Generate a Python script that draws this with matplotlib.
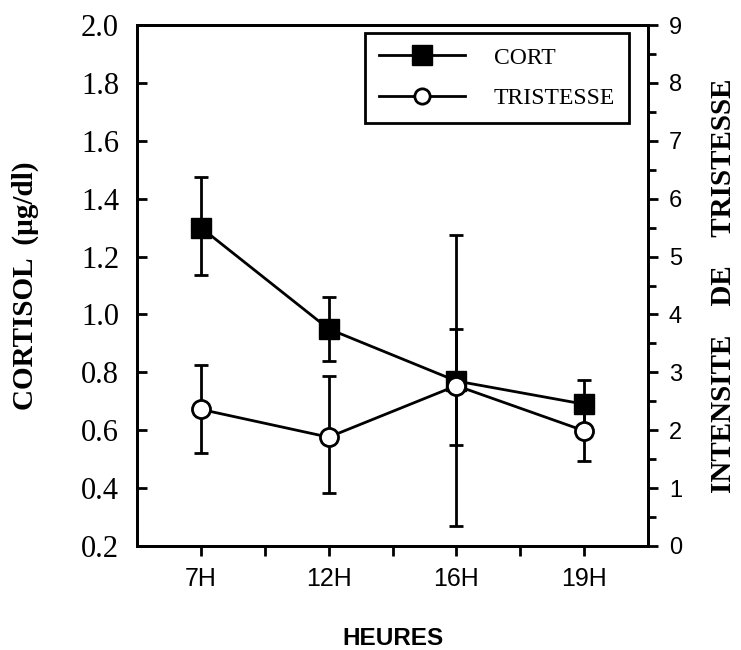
import matplotlib
matplotlib.use("Agg")
import matplotlib.pyplot as plt
from matplotlib.lines import Line2D
from matplotlib.ticker import MultipleLocator, FixedLocator

# donnees
hours = ['7H', '12H', '16H', '19H']
cort_mean = [1.30, 0.95, 0.77, 0.69]
cort_err_low = [0.165, 0.11, 0.22, 0.085]
cort_err_high = [0.175, 0.11, 0.18, 0.085]
trist_mean = [2.36, 1.88, 2.77, 1.99]
trist_err_low = [0.76, 0.96, 2.42, 0.53]
trist_err_high = [0.76, 1.05, 2.60, 0.53]

serif = 'Liberation Serif'
sans = 'Liberation Sans'
lw = 2.0

fig = plt.figure(figsize=(7.41, 6.5), dpi=100)
ax = fig.add_axes([0.185, 0.16, 0.6895, 0.8015])
ax2 = ax.twinx()

x = list(range(len(hours)))

ax.errorbar(x, cort_mean, yerr=[cort_err_low, cort_err_high], color='black',
            lw=lw, marker='s', ms=14, mfc='black', mec='black',
            ecolor='black', elinewidth=lw, capsize=5, capthick=lw)
ax2.errorbar(x, trist_mean, yerr=[trist_err_low, trist_err_high], color='black',
             lw=lw, marker='o', ms=13, mfc='white', mec='black', mew=lw,
             ecolor='black', elinewidth=lw, capsize=5, capthick=lw)

ax.set_xlim(-0.5, 3.5)
ax.set_ylim(0.2, 2.0)
ax2.set_ylim(0, 9)

ax.set_xticks(x)
ax.set_xticklabels(hours, fontfamily=sans, fontsize=18)
ax.xaxis.set_minor_locator(FixedLocator([0.5, 1.5, 2.5]))
ax.tick_params(axis='x', which='both', direction='out', length=7, width=lw, pad=8)

ax.yaxis.set_major_locator(MultipleLocator(0.2))
ax.set_yticklabels([f'{v:.1f}' for v in ax.get_yticks()], fontfamily=serif, fontsize=22)
ax.tick_params(axis='y', which='major', direction='in', length=7, width=lw, pad=13)

ax2.yaxis.set_major_locator(MultipleLocator(1))
ax2.yaxis.set_minor_locator(MultipleLocator(0.5))
ax2.set_yticklabels([str(int(v)) for v in ax2.get_yticks()], fontfamily=sans, fontsize=17)
ax2.tick_params(axis='y', which='major', direction='out', length=7, width=lw, pad=8)
ax2.tick_params(axis='y', which='minor', direction='out', length=5.5, width=lw)

for a in (ax, ax2):
    for s in a.spines.values():
        s.set_linewidth(lw)

ax.set_xlabel('HEURES', fontfamily=sans, fontweight='bold', fontsize=17.5, labelpad=26)
ax.set_ylabel('CORTISOL  (µg/dl)', fontfamily=serif, fontweight='bold', fontsize=21, labelpad=30)
ax2.set_ylabel('INTENSITE    DE    TRISTESSE', fontfamily=serif, fontweight='bold',
               fontsize=21, rotation=90, labelpad=20)

handles = [
    Line2D([], [], color='black', lw=lw, marker='s', ms=14, mfc='black'),
    Line2D([], [], color='black', lw=lw, marker='o', ms=11, mfc='white', mew=lw),
]
leg = ax2.legend(handles, ['CORT', 'TRISTESSE'], loc='upper right',
                 bbox_to_anchor=(0.963, 0.985), borderaxespad=0,
                 prop={'family': serif, 'size': 17}, handlelength=3.65,
                 handletextpad=1.2, borderpad=0.6, labelspacing=0.8,
                 fancybox=False, framealpha=1, edgecolor='black')
leg.get_frame().set_linewidth(lw)

fig.savefig('out.png', dpi=100)
